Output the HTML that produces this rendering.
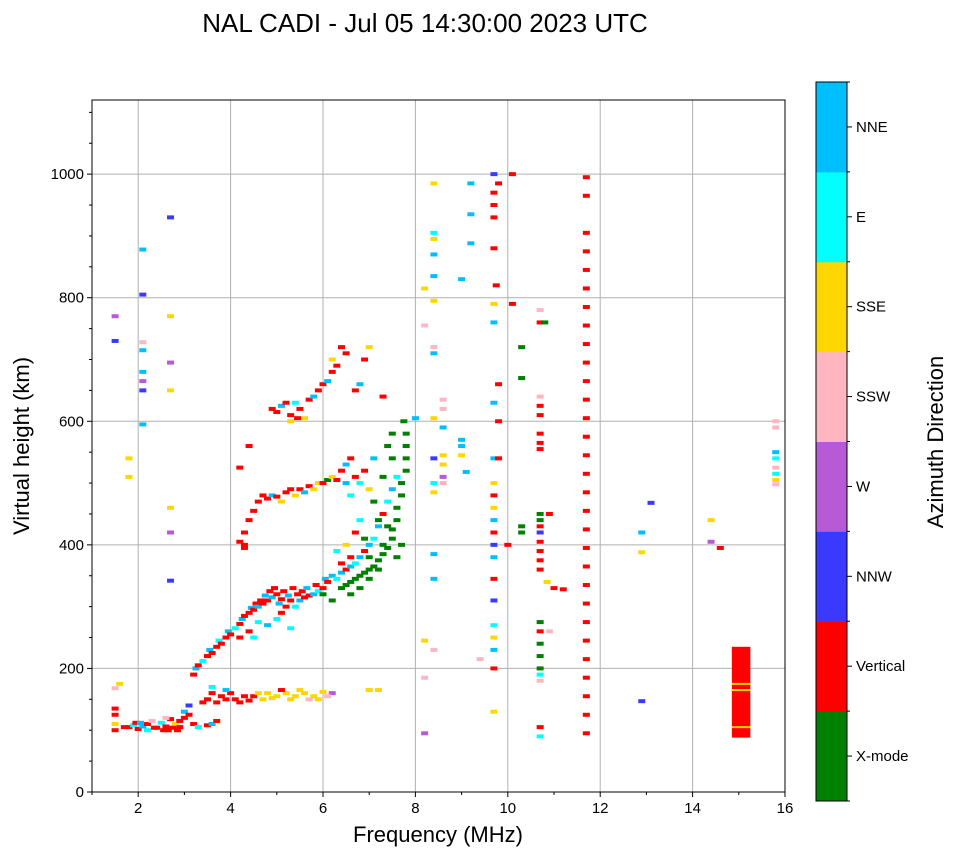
<!DOCTYPE html>
<html><head><meta charset="utf-8"><title>NAL CADI ionogram</title>
<style>
html,body{margin:0;padding:0;background:#fff;}
svg{display:block;font-family:"Liberation Sans",sans-serif;}
</style></head>
<body>
<svg id="chart" width="958" height="857" viewBox="0 0 958 857" xmlns="http://www.w3.org/2000/svg">
<text x="425" y="32" font-size="26" text-anchor="middle">NAL CADI - Jul 05 14:30:00 2023 UTC</text>
<g id="grid"></g>
<g id="marks"></g>
<rect x="92" y="100" width="693" height="692" fill="none" stroke="#000" stroke-width="1"/>
<g id="axes"></g>
<text x="438" y="842" font-size="22" text-anchor="middle">Frequency (MHz)</text>
<text transform="translate(29,446) rotate(-90)" font-size="22" text-anchor="middle">Virtual height (km)</text>
<g id="colorbar"></g>
<text transform="translate(943,442) rotate(-90)" font-size="22" text-anchor="middle">Azimuth Direction</text>
</svg>
<script>
const directions = ["X-mode","Vertical","NNW","W","SSW","SSE","E","NNE"];
const dirColors = ["#008000","#ff0000","#3a3aff","#b65ad6","#ffb6c1","#ffd700","#00ffff","#00bfff"];
const xTicks = [2,4,6,8,10,12,14,16];
const yTicks = [0,200,400,600,800,1000];
// echoes: [frequency MHz, virtual height km, direction index]
const echoesE = [[1.5,100,1],[1.5,110,5],[1.5,125,1],[1.5,135,1],[1.6,175,5],[1.5,168,4],[1.7,105,1],[1.8,105,1],[1.9,108,6],[2.0,102,1],[2.1,106,7],[2.2,110,1],[2.3,115,4],[2.4,104,1],[2.5,112,6],[2.6,106,1],[2.7,118,1],[2.8,110,5],[2.9,115,1],[3.0,120,1],[3.0,130,7],[3.1,125,1],[3.1,140,2],[3.2,110,1],[2.9,105,1],[2.6,120,4],[2.2,100,6],[1.95,112,1],[3.3,105,6],[3.5,108,1],[3.6,110,7],[3.7,115,1],[2.55,100,1],[2.65,100,1],[2.75,104,1],[2.85,100,1],[2.35,104,1],[2.05,112,7]];
const echoesF1 = [[3.5,150,1],[3.6,160,1],[3.7,145,1],[3.8,155,1],[3.9,150,1],[4.0,160,1],[4.1,150,1],[4.2,145,1],[4.3,155,1],[4.5,155,1],[4.6,160,5],[4.8,160,5],[5.0,155,5],[5.2,160,5],[5.4,155,5],[5.6,160,5],[5.8,155,5],[6.0,162,5],[6.2,160,3],[4.7,150,5],[5.1,165,1],[5.3,150,5],[5.5,165,5],[5.7,150,4],[3.6,170,6],[3.4,145,1],[7.0,165,5],[7.2,165,5],[4.4,148,1],[3.9,165,7],[4.9,152,5],[5.9,150,5],[6.1,155,4]];
const echoesF2 = [[3.2,190,1],[3.25,200,7],[3.3,205,1],[3.4,212,6],[3.5,220,1],[3.55,230,7],[3.6,225,1],[3.7,235,1],[3.75,245,6],[3.8,240,1],[3.9,250,1],[3.95,260,7],[4.0,255,1],[4.1,265,6],[4.2,272,1],[4.25,280,7],[4.3,285,1],[4.4,290,1],[4.45,298,7],[4.5,295,1],[4.55,305,1],[4.6,300,7],[4.65,310,1],[4.7,305,1],[4.75,318,7],[4.8,310,1],[4.85,325,1],[4.9,315,7],[4.95,330,1],[5.0,320,1],[5.05,305,7],[5.1,312,1],[5.15,325,1],[5.2,300,1],[5.25,318,7],[5.3,310,1],[5.35,330,1],[5.4,300,6],[5.45,320,1],[5.5,310,7],[5.55,325,1],[5.6,315,1],[5.65,330,7],[5.7,318,1],[5.8,320,7],[5.85,335,1],[5.9,325,6],[6.0,330,1],[6.05,345,7],[6.1,340,1],[6.2,350,7],[6.3,345,6],[6.4,355,7],[6.5,360,1],[6.6,365,7],[6.7,370,6],[6.8,380,7],[6.9,390,1],[7.0,400,7],[7.1,410,6],[7.2,430,7],[7.3,450,1],[7.4,470,6],[7.5,490,7],[7.6,510,6],[4.4,260,1],[4.6,275,6],[4.8,270,7],[5.0,280,6],[5.3,265,6],[4.2,250,1],[4.5,250,6],[5.1,290,1],[6.4,370,1],[6.6,380,1],[6.3,390,6],[6.5,400,5],[6.7,420,1],[6.8,440,6]];
const echoesX = [[6.4,330,0],[6.5,335,0],[6.6,340,0],[6.7,345,0],[6.8,350,0],[6.9,355,0],[7.0,360,0],[7.1,365,0],[7.2,375,0],[7.3,385,0],[7.4,395,0],[7.5,410,0],[7.5,425,0],[7.6,440,0],[7.6,460,0],[7.7,480,0],[7.7,500,0],[7.8,520,0],[7.8,540,0],[7.8,560,0],[7.8,580,0],[7.75,600,0],[6.6,320,0],[6.8,330,0],[7.0,345,0],[7.2,360,0],[7.0,380,0],[7.3,400,0],[7.4,430,0],[7.2,440,0],[6.2,310,0],[6.0,320,0],[7.6,380,0],[7.7,400,0],[6.9,410,0],[7.1,470,0],[7.3,510,0],[7.5,540,0],[7.5,580,0],[7.4,560,0]];
const echoesHop2 = [[4.2,405,1],[4.3,420,1],[4.4,440,1],[4.5,455,1],[4.6,470,1],[4.7,480,1],[4.8,475,1],[4.9,480,7],[5.0,478,1],[5.1,470,5],[5.2,485,1],[5.3,490,1],[5.4,480,5],[5.5,490,1],[5.6,485,7],[5.7,495,1],[5.8,490,5],[5.9,500,5],[6.0,500,1],[6.1,505,0],[6.2,510,5],[6.3,505,1],[6.4,520,1],[6.5,530,7],[6.6,540,1],[6.5,500,7],[6.6,480,6],[6.7,510,1],[6.8,500,6],[6.9,520,1],[7.0,490,5],[7.1,540,7],[4.4,560,1],[4.2,525,1]];
const echoesHop3 = [[4.9,620,1],[5.0,615,1],[5.1,625,7],[5.2,630,1],[5.3,610,1],[5.4,630,6],[5.5,620,1],[5.6,605,5],[5.7,635,1],[5.8,640,7],[5.9,650,1],[6.0,660,1],[6.1,665,7],[6.2,680,1],[6.2,700,5],[6.3,690,1],[6.4,720,1],[6.5,710,1],[5.3,600,5],[5.45,605,1],[6.7,650,1],[6.8,660,7],[6.9,700,1],[7.0,720,5],[7.3,640,1]];
const echoesCols = [[9.7,1000,2],[9.7,970,1],[9.7,950,1],[9.7,930,1],[9.7,880,1],[9.7,790,5],[9.7,760,7],[9.7,630,7],[9.7,540,7],[9.7,500,5],[9.7,480,1],[9.7,460,5],[9.7,440,7],[9.7,420,1],[9.7,400,2],[9.7,380,7],[9.7,345,1],[9.7,310,2],[9.7,270,6],[9.7,250,5],[9.7,230,7],[9.7,200,1],[9.7,130,5],[9.8,600,1],[9.8,540,1],[9.8,660,1],[9.75,820,1],[9.8,985,1],[10.1,1000,1],[10.1,790,1],[10.0,400,1],[10.7,780,4],[10.7,760,1],[10.7,640,4],[10.7,625,1],[10.7,610,1],[10.7,580,1],[10.7,565,1],[10.7,555,1],[10.7,450,0],[10.7,440,0],[10.7,430,1],[10.7,420,2],[10.7,405,1],[10.7,390,1],[10.7,375,1],[10.7,360,1],[10.7,275,0],[10.7,260,1],[10.7,240,0],[10.7,220,0],[10.7,200,0],[10.7,190,6],[10.7,180,4],[10.7,105,1],[10.7,90,6],[10.9,450,1],[10.9,260,4],[10.3,720,0],[10.3,670,0],[10.3,430,0],[10.3,420,0],[10.8,760,0],[10.85,340,5],[11.0,330,1],[11.2,328,1]];
const col117 = [995,965,905,875,845,815,785,755,725,695,665,635,605,575,545,515,485,455,425,395,365,335,305,275,245,215,185,155,125,95];
const echoesScatter = [[8.4,985,5],[8.4,905,6],[8.4,895,5],[8.4,870,7],[8.4,835,7],[8.4,795,5],[8.2,815,5],[8.2,755,4],[8.4,720,4],[8.4,710,7],[8.4,605,5],[8.6,635,4],[8.6,620,4],[8.6,590,7],[8.6,545,5],[8.6,530,5],[8.6,510,3],[8.6,500,4],[8.4,540,2],[8.4,500,6],[8.4,485,5],[8.4,385,7],[8.4,345,7],[8.4,230,4],[8.2,245,5],[8.2,185,4],[8.2,95,3],[9.0,570,7],[9.0,560,7],[9.0,545,5],[9.0,830,7],[9.2,985,7],[9.2,935,7],[9.2,888,7],[9.1,518,7],[9.4,215,4],[8.0,605,7],[13.1,468,2],[12.9,420,7],[12.9,388,5],[12.9,147,2],[14.4,440,5],[14.4,405,3],[14.6,395,1],[15.8,600,4],[15.8,590,4],[15.8,550,7],[15.8,540,6],[15.8,525,4],[15.8,515,6],[15.8,505,5],[15.8,498,4],[1.5,770,3],[1.5,730,2],[2.1,878,7],[2.1,805,2],[2.1,728,4],[2.1,715,7],[2.1,680,7],[2.1,665,3],[2.1,650,2],[2.1,595,7],[2.7,930,2],[2.7,770,5],[2.7,695,3],[2.7,650,5],[2.7,460,5],[2.7,420,3],[2.7,342,2],[1.8,540,5],[1.8,510,5],[4.3,395,1],[4.3,400,1]];
// block echo at 15 MHz: [fStart, fEnd, hBottom, hTop, direction]
const blockEcho = [14.85, 15.25, 88, 235, 1];
const blockStripes = [105, 165, 175];

const NS="http://www.w3.org/2000/svg";
const X0=92,X1=785,Y0=792,Y1=100, FMIN=1,FMAX=16,HMIN=0,HMAX=1120;
function xs(f){return X0+(f-FMIN)/(FMAX-FMIN)*(X1-X0);}
function ys(h){return Y0-(h-HMIN)/(HMAX-HMIN)*(Y0-Y1);}
function mk(tag,attrs,parent){const e=document.createElementNS(NS,tag);for(const k in attrs)e.setAttribute(k,attrs[k]);parent.appendChild(e);return e;}
const grid=document.getElementById('grid'),axes=document.getElementById('axes'),marks=document.getElementById('marks'),cb=document.getElementById('colorbar');
xTicks.forEach(t=>{
  const gl=mk('line',{x1:xs(t),x2:xs(t),y1:Y1,y2:Y0,stroke:'#b0b0b0','stroke-width':1},grid);
  
  
  mk('line',{x1:xs(t),x2:xs(t),y1:Y0,y2:Y0+5,stroke:'#000'},axes);
  const tl=mk('text',{x:xs(t),y:Y0+21,'font-size':15,'text-anchor':'middle'},axes);
  tl.textContent=t;
  
  
});
for(let t=1;t<16;t+=2){mk('line',{x1:xs(t),x2:xs(t),y1:Y0,y2:Y0+3,stroke:'#000'},axes);}
yTicks.forEach(t=>{
  const gl=mk('line',{x1:X0,x2:X1,y1:ys(t),y2:ys(t),stroke:'#b0b0b0','stroke-width':1},grid);
  
  
  mk('line',{x1:X0-5,x2:X0,y1:ys(t),y2:ys(t),stroke:'#000'},axes);
  const tl=mk('text',{x:X0-8,y:ys(t)+5,'font-size':15,'text-anchor':'end'},axes);
  tl.textContent=t;
  
  
});
for(let t=0;t<=1100;t+=50){if(t%200)mk('line',{x1:X0-3,x2:X0,y1:ys(t),y2:ys(t),stroke:'#000'},axes);}
const allEchoes=[].concat(echoesE,echoesF1,echoesF2,echoesX,echoesHop2,echoesHop3,echoesCols,echoesScatter,col117.map(h=>[11.7,h,1]));
allEchoes.forEach(d=>{
  const r=mk('rect',{x:xs(d[0])-3.5,y:ys(d[1])-2,width:7,height:4,fill:dirColors[d[2]]},marks);
  
  
});
const b=mk('rect',{x:xs(blockEcho[0]),y:ys(blockEcho[3]),width:xs(blockEcho[1])-xs(blockEcho[0]),height:ys(blockEcho[2])-ys(blockEcho[3]),fill:dirColors[blockEcho[4]]},marks);


blockStripes.forEach(h=>{
  const s=mk('rect',{x:xs(blockEcho[0]),y:ys(h)-1,width:xs(blockEcho[1])-xs(blockEcho[0]),height:2,fill:dirColors[5]},marks);
  
  
});
// colorbar
const CB_X=816,CB_W=31,CB_TOP=82,CB_BOT=801,seg=(CB_BOT-CB_TOP)/directions.length;
directions.forEach((d,i)=>{
  const yb=CB_BOT-(i+1)*seg;
  const r=mk('rect',{x:CB_X,y:yb,width:CB_W,height:seg+0.5,fill:dirColors[i]},cb);
  
  
  mk('line',{x1:CB_X+CB_W,x2:CB_X+CB_W+5,y1:yb+seg/2,y2:yb+seg/2,stroke:'#000'},cb);
  const t=mk('text',{x:856,y:yb+seg/2+5,'font-size':15},cb);
  t.textContent=d;
  
  
});
for(let i=0;i<=directions.length;i++){mk('line',{x1:CB_X+CB_W,x2:CB_X+CB_W+3,y1:CB_BOT-i*seg,y2:CB_BOT-i*seg,stroke:'#000'},cb);}
mk('rect',{x:CB_X,y:CB_TOP,width:CB_W,height:CB_BOT-CB_TOP,fill:'none',stroke:'#000'},cb);
</script>
</body></html>
